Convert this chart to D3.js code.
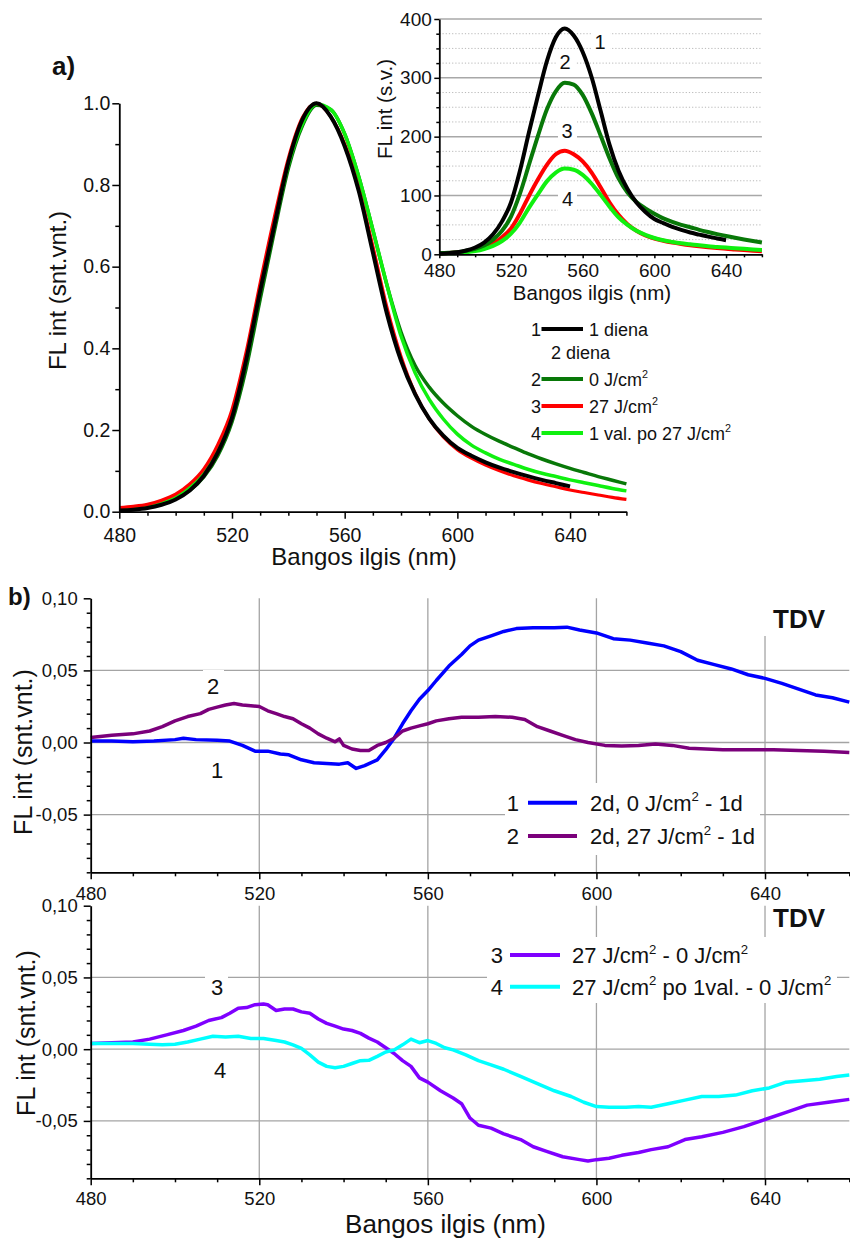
<!DOCTYPE html>
<html><head><meta charset="utf-8">
<script src="https://cdn.jsdelivr.net/npm/d3@7"></script>
<style>
body{margin:0;background:#fff;}
svg{display:block;}
text{white-space:pre;}
</style></head><body>
<svg id="c" width="850" height="1241"></svg>
<script>
// ---------------- DATA ----------------
// Panel a (normalized spectra), wavelength grid in nm
const wlA = [480,485,490,495,500,505,510,515,520,525,530,535,540,545,550,555,560,565,570,575,580,585,590,595,600,605,610,615,620,625,630,635,640,645,650,655,660];
const normBlack = [0.003,0.005,0.009,0.017,0.030,0.052,0.088,0.145,0.23,0.37,0.54,0.70,0.855,0.96,1.00,0.968,0.895,0.785,0.635,0.485,0.37,0.288,0.228,0.186,0.156,0.137,0.121,0.108,0.097,0.087,0.078,0.070,0.062];
const normDarkGreen = [0.006,0.008,0.012,0.02,0.032,0.052,0.085,0.138,0.22,0.35,0.52,0.685,0.84,0.945,0.995,0.985,0.925,0.82,0.69,0.555,0.44,0.358,0.305,0.266,0.235,0.209,0.189,0.172,0.157,0.142,0.129,0.117,0.106,0.096,0.086,0.077,0.068];
const normRed = [0.010,0.013,0.018,0.028,0.043,0.068,0.105,0.165,0.25,0.39,0.56,0.72,0.865,0.965,1.00,0.968,0.90,0.79,0.65,0.50,0.38,0.29,0.227,0.183,0.152,0.131,0.114,0.100,0.088,0.078,0.069,0.061,0.053,0.047,0.041,0.035,0.030];
const normGreen = [0.008,0.011,0.015,0.024,0.038,0.062,0.098,0.155,0.24,0.37,0.54,0.70,0.85,0.95,0.998,0.985,0.925,0.82,0.69,0.555,0.43,0.34,0.275,0.227,0.19,0.163,0.144,0.128,0.116,0.104,0.094,0.086,0.078,0.071,0.064,0.057,0.051];
// Inset (raw intensities, s.v.)
const rawBlack = [1,2,3.5,6.5,11.5,20,34,56,88,142,207,269,328,369,384,372,344,301,244,186,142,111,88,72,60,53,46.5,41.5,37,33.5,30,27,24];
const rawDarkGreen = [2,2.5,3.5,6,9.5,15,25,40,64,103,152,201,246,277,291.5,288.6,271,240,202,163,129,105,89,78,69,61,55,50,46,41.6,37.8,34.3,31,28,25.2,22.6,20];
const rawRed = [1.8,2.3,3.2,4.9,7.6,12,18.5,29,44,69,99,127,152,170,176,170,158,139,114,88,67,51,40,32,26.8,23,20,17.6,15.5,13.7,12.1,10.7,9.3,8.3,7.2,6.2,5.3];
const rawGreen = [1.2,1.6,2.2,3.5,5.5,9,14.3,22.6,35,54,79,102,124,139,145.7,143.8,135,120,101,81,63,50,40,33,27.7,23.8,21,18.7,17,15.2,13.7,12.6,11.4,10.4,9.3,8.3,7.4];

// Panel b top: difference spectra
const wl1 = [480,485,490,495,500,502,505,510,513,516,519,522,525,527,530,533,536,539,541,543,545,548,550,552,554,556,558,560,562,565,568,570,572,575,578,581,585,590,593,596,600,604,608,612,616,620,624,628,632,636,640,644,648,652,656,660];
const diff1 = [0.001,0.001,0.0005,0.001,0.002,0.003,0.002,0.0015,0.001,-0.002,-0.006,-0.006,-0.008,-0.0085,-0.012,-0.014,-0.0145,-0.015,-0.014,-0.018,-0.016,-0.012,-0.005,0.003,0.013,0.022,0.030,0.036,0.043,0.053,0.061,0.067,0.071,0.074,0.077,0.079,0.0795,0.0795,0.080,0.078,0.076,0.072,0.071,0.069,0.067,0.063,0.057,0.054,0.051,0.047,0.0445,0.041,0.037,0.033,0.031,0.028];
const wl2 = [480,485,490,494,497,500,503,506,508,510,512,514,516,518,520,522,524,526,528,530,532,534,536,538,539,540,542,544,546,548,550,552,554,556,558,560,562,565,568,572,576,580,583,586,589,592,595,598,602,606,610,614,618,622,626,630,636,642,648,654,660];
const diff2 = [0.0035,0.005,0.006,0.008,0.011,0.015,0.018,0.020,0.023,0.0245,0.026,0.027,0.026,0.0255,0.025,0.022,0.020,0.018,0.0165,0.013,0.010,0.006,0.003,0.0005,0.0025,-0.002,-0.0045,-0.0055,-0.0055,-0.002,0.000,0.003,0.008,0.010,0.0115,0.013,0.015,0.0165,0.0175,0.0175,0.018,0.0175,0.016,0.011,0.008,0.005,0.002,0.0,-0.002,-0.0025,-0.002,-0.001,-0.002,-0.004,-0.0045,-0.005,-0.005,-0.005,-0.0055,-0.006,-0.007];
// Panel b bottom
const wl3 = [480,485,490,494,498,502,505,508,511,513,515,517,519,521,522,524,526,528,530,532,534,536,538,540,542,544,546,548,550,552,554,556,558,560,563,566,568,570,572,575,578,582,585,588,592,596,598,600,603,606,610,613,617,621,625,630,635,640,645,650,655,660];
const diff3 = [0.004,0.0045,0.005,0.007,0.010,0.013,0.016,0.020,0.022,0.025,0.0285,0.029,0.031,0.0315,0.031,0.027,0.028,0.028,0.026,0.025,0.021,0.018,0.016,0.014,0.013,0.011,0.0077,0.005,0.001,-0.003,-0.008,-0.012,-0.020,-0.023,-0.029,-0.034,-0.038,-0.048,-0.053,-0.055,-0.059,-0.063,-0.068,-0.071,-0.075,-0.077,-0.078,-0.077,-0.076,-0.074,-0.072,-0.070,-0.068,-0.063,-0.061,-0.058,-0.054,-0.049,-0.044,-0.039,-0.037,-0.035];
const wl4 = [480,485,490,494,497,500,503,506,509,512,515,518,521,524,526,528,530,532,534,536,538,540,542,544,546,548,550,552,554,556,558,560,562,564,566,569,572,575,578,582,586,590,594,597,600,603,607,610,613,617,621,625,629,633,637,641,645,649,653,657,660];
const diff4 = [0.004,0.004,0.004,0.0035,0.003,0.0035,0.005,0.007,0.009,0.0085,0.009,0.0075,0.0075,0.006,0.005,0.003,0.0005,-0.004,-0.009,-0.012,-0.013,-0.012,-0.010,-0.008,-0.0078,-0.005,-0.002,-0.0005,0.003,0.007,0.0045,0.006,0.004,0.001,-0.0005,-0.004,-0.008,-0.011,-0.014,-0.019,-0.024,-0.029,-0.033,-0.037,-0.040,-0.0405,-0.0405,-0.040,-0.0405,-0.038,-0.0355,-0.033,-0.033,-0.032,-0.029,-0.027,-0.023,-0.022,-0.021,-0.019,-0.018];

// Ticks
const xMajor = [480,520,560,600,640];
const xMinor = [490,500,510,530,540,550,570,580,590,610,620,630,650,660];
const yMajorA = [0,0.2,0.4,0.6,0.8,1.0];
const yMinorA = [0.1,0.3,0.5,0.7,0.9];
const yMajorIn = [0,100,200,300,400];
const yMinorIn = [25,50,75,125,150,175,225,250,275,325,350,375];
const yMajorB = [-0.05,0,0.05,0.10];
const yMinorB = [-9,-8,-7,-6,-4,-3,-2,-1,1,2,3,4,6,7,8,9].map(v=>v/100);

// ---------------- DRAWING ----------------
const FONT = '"Liberation Sans", Arial, sans-serif';
const svg = d3.select("#c");
svg.append("rect").attr("width",850).attr("height",1241).attr("fill","#fff");

function axis(gen, scale, major, minor, tMaj, tMin, pad, fmt, fs, tx, ty) {
  const g = svg.append("g").attr("transform", `translate(${tx},${ty})`);
  const gmin = g.append("g").call(gen(scale).tickValues(minor).tickSize(tMin).tickSizeOuter(0).tickFormat(""));
  gmin.select(".domain").remove();
  g.append("g").call(gen(scale).tickValues(major).tickSize(tMaj).tickSizeOuter(0).tickPadding(pad).tickFormat(fmt));
  g.selectAll("line").attr("stroke","#000").attr("stroke-width",1.5);
  g.selectAll(".domain").attr("stroke","#000").attr("stroke-width",1.8);
  g.selectAll("text").attr("font-size",fs).attr("font-family",FONT).attr("fill","#111");
  return g;
}
function txt(x, y, s, fs, opts={}) {
  return svg.append("text").attr("x",x).attr("y",y).text(s)
    .attr("font-size",fs).attr("font-family",FONT).attr("fill","#111")
    .attr("text-anchor",opts.anchor||"start").attr("font-weight",opts.weight||"normal")
    .attr("transform",opts.transform||null);
}
function rich(x, y, parts, fs, anchor) {
  const t = svg.append("text").attr("x",x).attr("y",y).attr("font-size",fs)
    .attr("font-family",FONT).attr("fill","#111").attr("text-anchor",anchor||"start");
  let sup = false;
  parts.forEach(p => {
    const isSup = p.startsWith("^");
    const s = isSup ? p.slice(1) : p;
    const ts = t.append("tspan").text(s);
    if (isSup) ts.attr("font-size", fs*0.6);
    if (isSup && !sup) ts.attr("dy", -fs*0.42);
    if (!isSup && sup) ts.attr("dy", fs*0.42);
    sup = isSup;
  });
  return t;
}
function whiteBox(x,y,w,h){ svg.append("rect").attr("x",x).attr("y",y).attr("width",w).attr("height",h).attr("fill","#fff"); }
function curve(xs, ys, x, y, color, w, interp) {
  const pts = ys.map((v,i)=>[xs[i],v]);
  svg.append("path").datum(pts)
    .attr("d", d3.line().x(d=>x(d[0])).y(d=>y(d[1])).curve(interp||d3.curveMonotoneX))
    .attr("fill","none").attr("stroke",color).attr("stroke-width",w)
    .attr("stroke-linejoin","round").attr("stroke-linecap","butt");
}

// ===== Panel a main =====
const xA = d3.scaleLinear().domain([480,660]).range([119.3,626.4]);
const yA = d3.scaleLinear().domain([0,1]).range([511.7,103.3]);
curve(wlA, normDarkGreen, xA, yA, "#087808", 3.5);
curve(wlA, normGreen, xA, yA, "#10f010", 3.5);
curve(wlA, normRed, xA, yA, "#ff0000", 3.2);
curve(wlA, normBlack, xA, yA, "#000000", 4);
axis(d3.axisBottom, xA, xMajor, xMinor, 7, 4, 9, d3.format("d"), 19.5, 0, 511.7);
axis(d3.axisLeft, yA, yMajorA, yMinorA, 7, 4, 2, d3.format(".1f"), 19.5, 119.3, 0);
txt(364, 565, "Bangos ilgis (nm)", 24, {anchor:"middle"});
txt(0, 0, "FL int (snt.vnt.)", 24, {anchor:"middle", transform:"translate(66,290.5) rotate(-90)"});
txt(52, 75, "a)", 26, {weight:"bold"});

// ===== Inset =====
const xIn = d3.scaleLinear().domain([480,660]).range([439.3,761.9]);
const yIn = d3.scaleLinear().domain([0,400]).range([254.3,19]);
yMinorIn.forEach(v => svg.append("line").attr("x1",xIn(480)).attr("x2",xIn(660)).attr("y1",yIn(v)).attr("y2",yIn(v))
  .attr("stroke","#b8b8b8").attr("stroke-width",1).attr("stroke-dasharray","1.2,2"));
[100,200,300,400].forEach(v => svg.append("line").attr("x1",xIn(480)).attr("x2",xIn(660)).attr("y1",yIn(v)).attr("y2",yIn(v))
  .attr("stroke","#a8a8a8").attr("stroke-width",1.5));
// label backgrounds
whiteBox(591,30,19,25); whiteBox(556,49,19,25); whiteBox(558,118,19,25); whiteBox(558,186,19,25);
curve(wlA, rawRed, xIn, yIn, "#ff0000", 4);
curve(wlA, rawGreen, xIn, yIn, "#10f010", 4);
curve(wlA, rawDarkGreen, xIn, yIn, "#087808", 4);
curve(wlA, rawBlack, xIn, yIn, "#000000", 4);
axis(d3.axisBottom, xIn, xMajor, xMinor, 4, 3, 5.5, d3.format("d"), 19, 0, 254.3);
axis(d3.axisLeft, yIn, yMajorIn, yMinorIn, 5, 3, 2.5, d3.format("d"), 19, 439.3, 0);
txt(592, 300, "Bangos ilgis (nm)", 20.5, {anchor:"middle"});
txt(0, 0, "FL int (s.v.)", 20.5, {anchor:"middle", transform:"translate(392,109) rotate(-90)"});
txt(600, 49, "1", 20, {anchor:"middle"});
txt(565, 68.5, "2", 20, {anchor:"middle"});
txt(567, 137.5, "3", 20, {anchor:"middle"});
txt(567.5, 205.5, "4", 20, {anchor:"middle"});

// ===== Legend a =====
const legA = [
  {n:"1", c:"#000000", y:329, parts:["1 diena"]},
  {n:"2", c:"#087808", y:379, parts:["0 J/cm","^2"]},
  {n:"3", c:"#ff0000", y:406, parts:["27 J/cm","^2"]},
  {n:"4", c:"#10f010", y:433, parts:["1 val. po 27 J/cm","^2"]}
];
legA.forEach(d => {
  txt(541, d.y+6.5, d.n, 18, {anchor:"end"});
  svg.append("line").attr("x1",541.5).attr("x2",583).attr("y1",d.y).attr("y2",d.y).attr("stroke",d.c).attr("stroke-width",4);
  rich(589, d.y+6.5, d.parts, 18);
});
txt(551, 358.5, "2 diena", 18);

// ===== Panel b =====
const xB = d3.scaleLinear().domain([480,660]).range([90.7,849.3]);
const yB1 = d3.scaleLinear().domain([-0.09,0.10]).range([872.3,598.3]);
const yB2 = d3.scaleLinear().domain([-0.09,0.10]).range([1178.3,905.7]);
const fmtB = v => v.toFixed(2).replace(".", ",");

function grid(yS) {
  [520,560,600,640].forEach(v => svg.append("line").attr("x1",xB(v)).attr("x2",xB(v)).attr("y1",yS(0.10)).attr("y2",yS(-0.09))
    .attr("stroke","#a4a4a4").attr("stroke-width",1.3));
  [-0.05,0,0.05].forEach(v => svg.append("line").attr("x1",xB(480)).attr("x2",xB(660)).attr("y1",yS(v)).attr("y2",yS(v))
    .attr("stroke","#a4a4a4").attr("stroke-width",1.3));
}
// top
grid(yB1);
whiteBox(505,783,255,72);
whiteBox(758,598,80,38);
whiteBox(203,670,21,30);
curve(wl1, diff1, xB, yB1, "#0000ff", 3.5, d3.curveLinear);
curve(wl2, diff2, xB, yB1, "#7b007b", 3.5, d3.curveLinear);
axis(d3.axisBottom, xB, xMajor, xMinor, 7, 4, 8, d3.format("d"), 18.5, 0, 872.3);
axis(d3.axisLeft, yB1, yMajorB, yMinorB, 7, 4, 6, fmtB, 18.5, 90.7, 0);
txt(0, 0, "FL int (snt.vnt.)", 25, {anchor:"middle", transform:"translate(32,752) rotate(-90)"});
txt(8, 605, "b)", 24, {weight:"bold"});
txt(773, 628, "TDV", 26, {weight:"bold"});
txt(213, 693.5, "2", 22, {anchor:"middle"});
txt(217, 778, "1", 22, {anchor:"middle"});
const legB1 = [
  {n:"1", c:"#0000ff", y:802.7, parts:["2d, 0 J/cm","^2"," - 1d"]},
  {n:"2", c:"#7b007b", y:836, parts:["2d, 27 J/cm","^2"," - 1d"]}
];
legB1.forEach(d => {
  txt(519, d.y+8, d.n, 22, {anchor:"end"});
  svg.append("line").attr("x1",528).attr("x2",577).attr("y1",d.y).attr("y2",d.y).attr("stroke",d.c).attr("stroke-width",4);
  rich(590, d.y+8, d.parts, 22);
});

// bottom
grid(yB2);
whiteBox(487,937,350,66);
whiteBox(768,905.7,70,26);
whiteBox(205,975,23,25);
whiteBox(209,1050,23,32);
curve(wl3, diff3, xB, yB2, "#7f00ff", 3.5, d3.curveLinear);
curve(wl4, diff4, xB, yB2, "#00ffff", 3.5, d3.curveLinear);
axis(d3.axisBottom, xB, xMajor, xMinor, 7, 4, 6.5, d3.format("d"), 18.5, 0, 1178.3);
axis(d3.axisLeft, yB2, yMajorB, yMinorB, 7, 4, 6, fmtB, 18.5, 90.7, 0);
txt(0, 0, "FL int (snt.vnt.)", 25, {anchor:"middle", transform:"translate(35,1033) rotate(-90)"});
txt(445.5, 1233, "Bangos ilgis (nm)", 26, {anchor:"middle"});
txt(773, 927, "TDV", 26, {weight:"bold"});
txt(217, 995, "3", 22, {anchor:"middle"});
txt(220, 1078, "4", 22, {anchor:"middle"});
const legB2 = [
  {n:"3", c:"#7f00ff", y:955, parts:["27 J/cm","^2"," - 0 J/cm","^2"]},
  {n:"4", c:"#00ffff", y:986.7, parts:["27 J/cm","^2"," po 1val. - 0 J/cm","^2"]}
];
legB2.forEach(d => {
  txt(503, d.y+8, d.n, 22, {anchor:"end"});
  svg.append("line").attr("x1",510).attr("x2",560).attr("y1",d.y).attr("y2",d.y).attr("stroke",d.c).attr("stroke-width",4);
  rich(572, d.y+8, d.parts, 22);
});
</script>
</body></html>
